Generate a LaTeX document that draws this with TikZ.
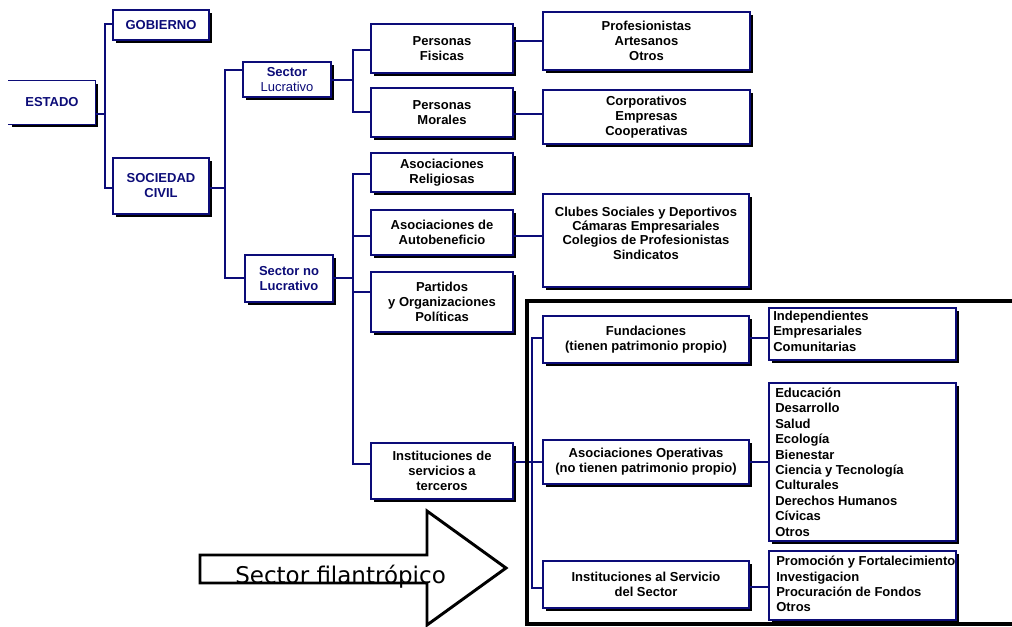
\documentclass[tikz,border=0pt]{standalone}
\usepackage{fontspec}
\setmainfont{Liberation Sans}
\newfontfamily\arrowfont{DejaVu Sans}
\usetikzlibrary{shadows}
\definecolor{boxblue}{RGB}{12,12,120}
\tikzset{
  box/.style={draw=boxblue, line width=1.1pt, fill=white, inner sep=0pt, align=center,
    font=\bfseries\fontsize{9.75}{11.25}\selectfont,
    drop shadow={shadow xshift=2.4pt, shadow yshift=-2.4pt, opacity=1, fill=black}},
  navybox/.style={box, text=boxblue},
  corners/.style n args={4}{at={({(#1+#3)/2},{(#2+#4)/2})},
    minimum width={(#3-#1)*0.75pt}, minimum height={(#4-#2)*0.75pt}},
  conn/.style={draw=boxblue, line width=1.1pt},
  listtext/.style={inner sep=0pt, align=left, anchor=west,
    font=\bfseries\fontsize{9.75}{11.55}\selectfont},
}
\begin{document}
\begin{tikzpicture}[x=0.75pt,y=-0.75pt]
\useasboundingbox (0,0) rectangle (1012,626);

% left column
\node[navybox, draw=none, corners={9}{81}{95}{124}] (estado) {ESTADO};
\draw[boxblue, line width=1.1pt] (estado.north west) -- (estado.north east) -- (estado.south east) -- (estado.south west);
\node[navybox, corners={113}{10}{209}{40}] (gob) {GOBIERNO};
\node[navybox, corners={113}{158}{209}{214}] (soc) {SOCIEDAD\\CIVIL};
\node[navybox, corners={243}{62}{331}{97}] (sl) {Sector\\{\mdseries Lucrativo}};
\node[navybox, corners={245}{255}{333}{302}] (snl) {Sector no\\Lucrativo};

% second column
\node[box, corners={371}{24}{513}{73}] (pf) {Personas\\Fisicas};
\node[box, corners={371}{88}{513}{137}] (pm) {Personas\\Morales};
\node[box, corners={371}{153}{513}{192}] (ar) {Asociaciones\\Religiosas};
\node[box, corners={371}{210}{513}{255}] (aa) {Asociaciones de\\Autobeneficio};
\node[box, corners={371}{272}{513}{332}] (pa) {Partidos\\y Organizaciones\\Políticas};
\node[box, corners={371}{443}{513}{499}] (inst) {Instituciones de\\servicios a\\terceros};

% third column
\node[box, corners={543}{12}{750}{70}] (prof) {Profesionistas\\Artesanos\\Otros};
\node[box, corners={543}{90}{750}{144}] (corp) {Corporativos\\Empresas\\Cooperativas};
\node[box, corners={543}{194}{749}{287}] (clubes) {};
\node[inner sep=0pt, align=center, font=\bfseries\fontsize{9.75}{10.8}\selectfont] (clubtxt) at (646,233)
  {Clubes Sociales y Deportivos\\Cámaras Empresariales\\Colegios de Profesionistas\\Sindicatos};
\node[box, corners={543}{316}{749}{363}] (fund) {Fundaciones\\(tienen patrimonio propio)};
\node[box, corners={543}{440}{749}{484}] (op) {Asociaciones Operativas\\(no tienen patrimonio propio)};
\node[box, corners={543}{561}{749}{608}] (serv) {Instituciones al Servicio\\del Sector};

% fourth column
\node[box, corners={769}{308}{956}{360}] (indep) {};
\node[listtext] (indeptxt) at (773,331) {Independientes\\Empresariales\\Comunitarias};
\node[box, corners={769}{383}{956}{541}] (edu) {};
\node[listtext] (edutxt) at (775,462) {Educación\\Desarrollo\\Salud\\Ecología\\Bienestar\\Ciencia y Tecnología\\Culturales\\Derechos Humanos\\Cívicas\\Otros};
\node[box, corners={769}{551}{956}{620}] (prom) {};
\begin{scope}
  \clip (prom.north west) rectangle (prom.south east);
  \node[listtext] (promtxt) at (776,584) {Promoción y Fortalecimiento\\Investigacion\\Procuración de Fondos\\Otros};
\end{scope}
\draw[boxblue, line width=1.1pt] (prom.north west) rectangle (prom.south east);

% connectors
\draw[conn] (estado.east |- 0,114) -- (105,114);
\draw[conn] (gob.west |- 0,24) -| (105,188) -- (soc.west |- 0,188);
\draw[conn] (soc.east |- 0,188) -- (225,188);
\draw[conn] (sl.west |- 0,70) -| (225,278) -- (snl.west |- 0,278);
\draw[conn] (sl.east |- 0,80) -- (353,80);
\draw[conn] (pf.west |- 0,50) -| (353,112) -- (pm.west |- 0,112);
\draw[conn] (pf.east |- 0,41) -- (prof.west |- 0,41);
\draw[conn] (pm.east |- 0,114) -- (corp.west |- 0,114);
\draw[conn] (snl.east |- 0,278) -- (353,278);
\draw[conn] (ar.west |- 0,174) -| (353,464) -- (inst.west |- 0,464);
\draw[conn] (aa.west |- 0,236) -- (353,236);
\draw[conn] (pa.west |- 0,292) -- (353,292);
\draw[conn] (aa.east |- 0,236) -- (clubes.west |- 0,236);
\draw[conn] (inst.east |- 0,462) -- (op.west |- 0,462);
\draw[conn] (fund.west |- 0,338) -| (532,588) -- (serv.west |- 0,588);
\draw[conn] (fund.east |- 0,338) -- (indep.west |- 0,338);
\draw[conn] (op.east |- 0,462) -- (edu.west |- 0,462);
\draw[conn] (serv.east |- 0,587) -- (prom.west |- 0,587);

% philanthropic sector frame
\draw[black, line width=3.3pt] (527,301) rectangle (1030,624);

% arrow
\draw[black, line width=2.2pt, fill=white, line join=miter]
  (200,555) -- (427,555) -- (427,511) -- (506,568) -- (427,625) -- (427,583) -- (200,583) -- cycle;
\node[inner sep=0pt, anchor=base west, font=\arrowfont\fontsize{17.25}{20}\selectfont] (filan) at (235,583) {Sector filantrópico};
\end{tikzpicture}
\end{document}
